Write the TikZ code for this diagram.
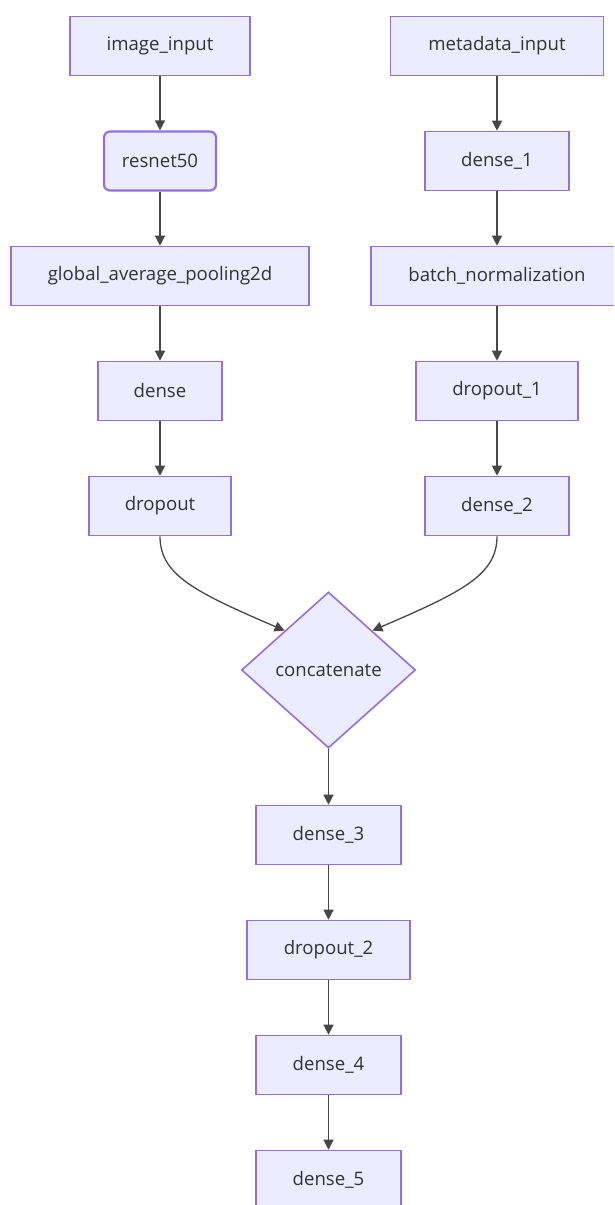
\documentclass[tikz,border=0pt]{standalone}
\usepackage{fontspec}
\setmainfont{Open Sans}
\usetikzlibrary{shapes.geometric,arrows.meta}
\definecolor{nodefill}{HTML}{ECECFF}
\definecolor{nodeline}{HTML}{9370DB}
\definecolor{edgeline}{HTML}{333333}
\tikzset{
  layer/.style={draw=nodeline, fill=nodefill, line width=1.6pt, minimum height=59pt,
    inner sep=0pt, font=\fontsize{18.6}{22}\selectfont, text=edgeline},
  backbone/.style={layer, rounded corners=6pt, line width=2.2pt},
  merge/.style={diamond, draw=nodeline, fill=nodefill, line width=1.6pt, inner sep=0pt,
    minimum width=174pt, minimum height=156pt, aspect=1.115,
    font=\fontsize{18.6}{22}\selectfont, text=edgeline},
  flow/.style={draw=edgeline!90, line width=1.3pt, -{Triangle[length=10pt,width=10pt]}}
}
\begin{document}
\begin{tikzpicture}[x=1pt,y=-1pt]
\useasboundingbox (0,0) rectangle (614,1205);
\clip (0,0) rectangle (614,1205);
\fill[white] (0,0) rectangle (614,1205);

% image branch
\node[layer, minimum width=180pt] (img) at (160,46) {image\_input};
\node[backbone, minimum width=112pt] (res) at (160,161) {resnet50};
\node[layer, minimum width=298pt] (gap) at (160,276) {global\_average\_pooling2d};
\node[layer, minimum width=124pt] (d0) at (160,391) {dense};
\node[layer, minimum width=142pt] (do0) at (160,506) {dropout};

% metadata branch
\node[layer, minimum width=213pt] (meta) at (497,46) {metadata\_input};
\node[layer, minimum width=144pt] (d1) at (497,161) {dense\_1};
\node[layer, minimum width=252pt] (bn) at (497,276) {batch\_normalization};
\node[layer, minimum width=162pt] (do1) at (497,391) {dropout\_1};
\node[layer, minimum width=144pt] (d2) at (497,506) {dense\_2};

% merged head
\node[merge] (cat) at (328.5,670) {concatenate};
\node[layer, minimum width=145pt] (d3) at (328.5,835) {dense\_3};
\node[layer, minimum width=163pt] (do2) at (328.5,950) {dropout\_2};
\node[layer, minimum width=145pt] (d4) at (328.5,1065) {dense\_4};
\node[layer, minimum width=145pt] (d5) at (328.5,1180) {dense\_5};

% connectors
\draw[flow] (img) -- (res);
\draw[flow] (res) -- (gap);
\draw[flow] (gap) -- (d0);
\draw[flow] (d0) -- (do0);
\draw[flow] (meta) -- (d1);
\draw[flow] (d1) -- (bn);
\draw[flow] (bn) -- (do1);
\draw[flow] (do1) -- (d2);
\draw[flow] (do0.south) .. controls (160,575) and (195,592) .. (cat.north west);
\draw[flow] (d2.south) .. controls (497,575) and (462,592) .. (cat.north east);
\draw[flow] (cat) -- (d3);
\draw[flow] (d3) -- (do2);
\draw[flow] (do2) -- (d4);
\draw[flow] (d4) -- (d5);
\end{tikzpicture}
\end{document}
